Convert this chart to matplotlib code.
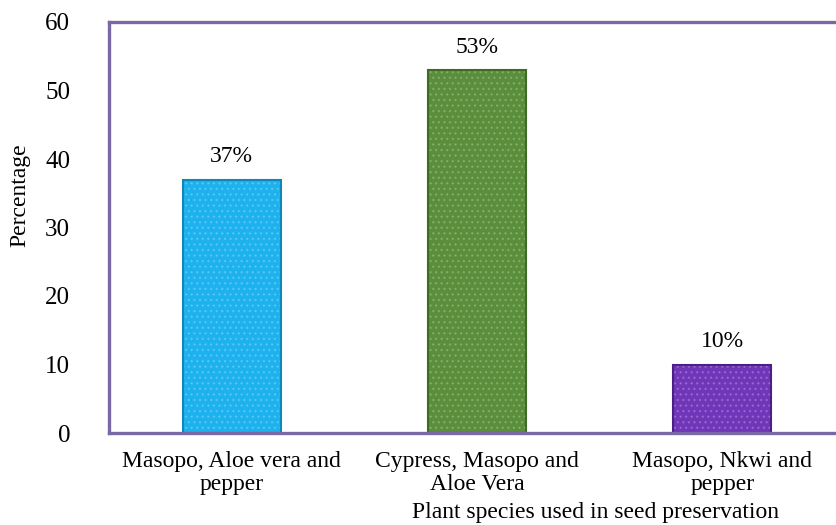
import matplotlib.pyplot as plt

plt.rcParams['font.family'] = ['Liberation Serif', 'DejaVu Serif']

# data
categories = ["Masopo, Aloe vera and\npepper", "Cypress, Masopo and\nAloe Vera", "Masopo, Nkwi and\npepper"]
values = [37, 53, 10]
labels = ["37%", "53%", "10%"]
colors = ["#1DB2EE", "#5A8E3A", "#7035B8"]
edges = ["#1186B8", "#3F6B25", "#4B1F86"]

fig = plt.figure(figsize=(8.36, 5.25), dpi=100)
ax = fig.add_axes([109 / 836, 1 - 433 / 525, (845 - 109) / 836, (433 - 22) / 525])

x = range(len(values))
ax.bar(x, values, width=0.40, color=colors, linewidth=0)
# dotted texture on the bars
ax.bar(x, values, width=0.40, fill=False, hatch="...", edgecolor="#FFFFFF30", linewidth=0)
ax.bar(x, values, width=0.40, fill=False, edgecolor=edges, linewidth=1.5)

for xi, v, lab in zip(x, values, labels):
    ax.text(xi, v + 1.8, lab, ha="center", va="bottom", fontsize=17)

ax.set_xlim(-0.5, 2.5)
ax.set_ylim(0, 60)
ax.set_yticks(range(0, 61, 10))
ax.set_xticks(list(x))
ax.set_xticklabels(categories, fontsize=17, linespacing=1.15)
ax.tick_params(axis="both", length=0)
ax.tick_params(axis="y", labelsize=18, pad=28)
ax.tick_params(axis="x", pad=13)

for s in ax.spines.values():
    s.set_color("#7A68A6")
    s.set_linewidth(2.4)

fig.text(20 / 836, 1 - 195 / 525, "Percentage", rotation=90,
         ha="center", va="center", fontsize=17)
fig.text(595 / 836, 2 / 525, "Plant species used in seed preservation",
         ha="center", va="bottom", fontsize=17)

fig.savefig("out.png", dpi=100)
